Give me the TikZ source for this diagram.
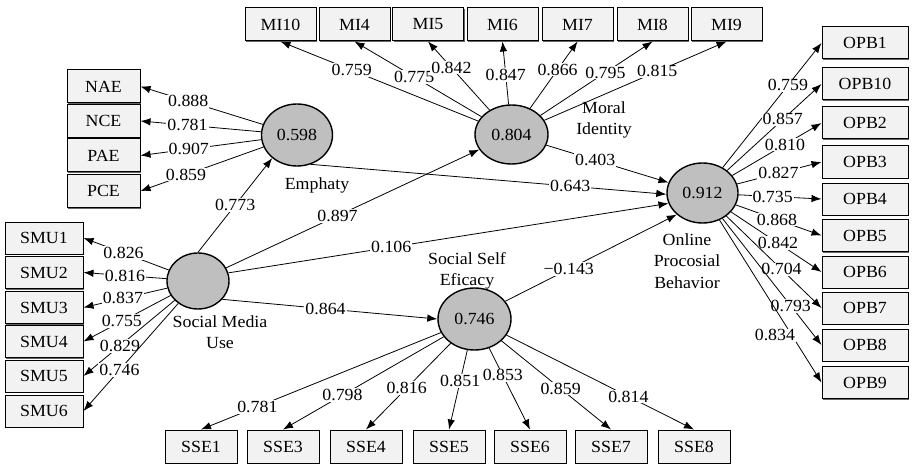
\documentclass[tikz,border=0pt]{standalone}
\usepackage{fontspec}
\setmainfont{Liberation Serif}[FakeStretch=1.05]
\usetikzlibrary{arrows.meta,shapes.geometric,shadows}
\begin{document}
\begin{tikzpicture}[x=1pt,y=-1pt,
  every node/.style={font=\fontsize{17}{21.5}\selectfont},
  lv/.style={ellipse,draw,line width=1.4pt,fill=gray!50,inner sep=0pt},
  ind/.style={rectangle,draw,line width=1pt,fill=gray!10,inner sep=0pt,minimum height=33pt,
     drop shadow={shadow xshift=1.3pt,shadow yshift=-1.3pt,fill=black,opacity=0.6}},
  arr/.style={line width=0.8pt,-{Latex[length=10pt,width=7.5pt]}},
  lbl/.style={fill=white,inner sep=1pt},
  captxt/.style={align=center}]
\useasboundingbox (0,0) rectangle (917,473);

% latent variables
\node[lv,minimum width=71pt,minimum height=62pt] (emp) at (297,135) {0.598};
\node[lv,minimum width=73pt,minimum height=59pt] (mi) at (511.5,134.5) {0.804};
\node[lv,minimum width=62pt,minimum height=56pt] (smu) at (198,281) {};
\node[lv,minimum width=73pt,minimum height=62pt] (sse) at (474.5,319) {0.746};
\node[lv,minimum width=71pt,minimum height=60pt] (opb) at (702.5,193) {0.912};

% captions
\node[captxt] (empc) at (317,185) {Emphaty};
\node[captxt] (mic) at (604,120) {Moral\\Identity};
\node[captxt] (smuc) at (220,332) {Social Media\\Use};
\node[captxt] (ssec) at (467,271) {Social Self\\Eficacy};
\node[captxt] (opbc) at (687,261) {Online\\Procosial\\Behavior};

% Moral identity indicators
\node[ind,minimum width=71pt] (mi10) at (280.5,24.5) {MI10};
\node[ind,minimum width=71pt] (mi4) at (354.5,24.5) {MI4};
\node[ind,minimum width=71pt] (mi5) at (428,24.5) {MI5};
\node[ind,minimum width=71pt] (mi6) at (502.5,24.5) {MI6};
\node[ind,minimum width=71pt] (mi7) at (577.5,24.5) {MI7};
\node[ind,minimum width=71pt] (mi8) at (652.5,24.5) {MI8};
\node[ind,minimum width=71pt] (mi9) at (726.5,24.5) {MI9};

% Emphaty indicators
\node[ind,minimum width=73pt] (nae) at (103.5,86.5) {NAE};
\node[ind,minimum width=73pt] (nce) at (103.5,121) {NCE};
\node[ind,minimum width=73pt] (pae) at (103.5,155.5) {PAE};
\node[ind,minimum width=73pt] (pce) at (103.5,191) {PCE};

% Social media use indicators
\node[ind,minimum width=78pt,minimum height=32pt] (smu1) at (44,238) {SMU1};
\node[ind,minimum width=78pt,minimum height=32pt] (smu2) at (44,272.5) {SMU2};
\node[ind,minimum width=78pt,minimum height=32pt] (smu3) at (44,307.5) {SMU3};
\node[ind,minimum width=78pt,minimum height=32pt] (smu4) at (44,341.5) {SMU4};
\node[ind,minimum width=78pt,minimum height=32pt] (smu5) at (44,376) {SMU5};
\node[ind,minimum width=78pt,minimum height=32pt] (smu6) at (44,411) {SMU6};

% Online prosocial behavior indicators
\node[ind,minimum width=86pt,minimum height=32pt] (opb1) at (865,43) {OPB1};
\node[ind,minimum width=86pt,minimum height=32pt] (opb10) at (865,84) {OPB10};
\node[ind,minimum width=86pt,minimum height=32pt] (opb2) at (865,123) {OPB2};
\node[ind,minimum width=86pt,minimum height=32pt] (opb3) at (865,162) {OPB3};
\node[ind,minimum width=86pt,minimum height=32pt] (opb4) at (865,199) {OPB4};
\node[ind,minimum width=86pt,minimum height=32pt] (opb5) at (865,235.5) {OPB5};
\node[ind,minimum width=86pt,minimum height=32pt] (opb6) at (865,272) {OPB6};
\node[ind,minimum width=86pt,minimum height=32pt] (opb7) at (865,308) {OPB7};
\node[ind,minimum width=86pt,minimum height=32pt] (opb8) at (865,345) {OPB8};
\node[ind,minimum width=86pt,minimum height=32pt] (opb9) at (865,382.5) {OPB9};

% Social self efficacy indicators
\node[ind,minimum width=72pt] (sse1) at (201,446.5) {SSE1};
\node[ind,minimum width=72pt] (sse3) at (283,446.5) {SSE3};
\node[ind,minimum width=72pt] (sse4) at (366,446.5) {SSE4};
\node[ind,minimum width=72pt] (sse5) at (449,446.5) {SSE5};
\node[ind,minimum width=72pt] (sse6) at (530,446.5) {SSE6};
\node[ind,minimum width=72pt] (sse7) at (611,446.5) {SSE7};
\node[ind,minimum width=72pt] (sse8) at (694,446.5) {SSE8};

% outer loadings: Moral identity
\draw[arr] (mi) -- node[lbl,pos=0.64]{0.759} (mi10.south);
\draw[arr] (mi) -- node[lbl,pos=0.53]{0.775} (mi4.south);
\draw[arr] (mi) -- node[lbl,pos=0.62]{0.842} (mi5.south);
\draw[arr] (mi) -- node[lbl,pos=0.47]{0.847} (mi6.south);
\draw[arr] (mi) -- node[lbl,pos=0.58]{0.866} (mi7.south);
\draw[arr] (mi) -- node[lbl,pos=0.58]{0.795} (mi8.south);
\draw[arr] (mi) -- node[lbl,pos=0.62]{0.815} (mi9.south);

% outer loadings: Emphaty
\draw[arr] (emp) -- node[lbl,pos=0.61]{0.888} (nae.east);
\draw[arr] (emp) -- node[lbl,pos=0.61]{0.781} (nce.east);
\draw[arr] (emp) -- node[lbl,pos=0.60]{0.907} (pae.east);
\draw[arr] (emp) -- node[lbl,pos=0.63]{0.859} (pce.east);

% outer loadings: Social media use
\draw[arr] (smu) -- node[lbl,pos=0.53]{0.826} (smu1.east);
\draw[arr] (smu) -- node[lbl,pos=0.50]{0.816} (smu2.east);
\draw[arr] (smu) -- node[lbl,pos=0.53]{0.837} (smu3.east);
\draw[arr] (smu) -- node[lbl,pos=0.56]{0.755} (smu4.east);
\draw[arr] (smu) -- node[lbl,pos=0.60]{0.829} (smu5.east);
\draw[arr] (smu) -- node[lbl,pos=0.62]{0.746} (smu6.east);

% outer loadings: Online prosocial behavior
\draw[arr] (opb) -- node[lbl,pos=0.66]{0.759} (opb1.west);
\draw[arr] (opb) -- node[lbl,pos=0.59]{0.857} (opb10.west);
\draw[arr] (opb) -- node[lbl,pos=0.59]{0.810} (opb2.west);
\draw[arr] (opb) -- node[lbl,pos=0.49]{0.827} (opb3.west);
\draw[arr] (opb) -- node[lbl,pos=0.41]{0.735} (opb4.west);
\draw[arr] (opb) -- node[lbl,pos=0.48]{0.868} (opb5.west);
\draw[arr] (opb) -- node[lbl,pos=0.52]{0.842} (opb6.west);
\draw[arr] (opb) -- node[lbl,pos=0.58]{0.704} (opb7.west);
\draw[arr] (opb) -- node[lbl,pos=0.69]{0.793} (opb8.west);
\draw[arr] (opb) -- node[lbl,pos=0.71,xshift=-17pt]{0.834} (opb9.west);

% outer loadings: Social self efficacy
\draw[arr] (sse) -- node[lbl,pos=0.765]{0.781} (sse1.north);
\draw[arr] (sse) -- node[lbl,pos=0.63]{0.798} (sse3.north);
\draw[arr] (sse) -- node[lbl,pos=0.52]{0.816} (sse4.north);
\draw[arr] (sse) -- node[lbl,pos=0.39]{0.851} (sse5.north);
\draw[arr] (sse) -- node[lbl,pos=0.335]{0.853} (sse6.north);
\draw[arr] (sse) -- node[lbl,pos=0.54]{0.859} (sse7.north);
\draw[arr] (sse) -- node[lbl,pos=0.65]{0.814} (sse8.north);

% structural paths
\draw[arr] (smu.north) -- node[lbl,pos=0.5]{0.773} (emp.223);
\draw[arr] (smu) -- node[lbl,pos=0.44]{0.897} (mi);
\draw[arr] (smu.15) -- node[lbl,pos=0.37]{0.106} (opb.197);
\draw[arr] (smu.-37) -- node[lbl,pos=0.48]{0.864} (sse.west);
\draw[arr] (emp.-65) -- node[lbl,pos=0.73]{0.643} (opb.182);
\draw[arr] (mi) -- node[lbl,pos=0.4]{0.403} (opb);
\draw[arr] (sse.30) -- node[lbl,pos=0.37]{−0.143} (opb.220);
\end{tikzpicture}
\end{document}
